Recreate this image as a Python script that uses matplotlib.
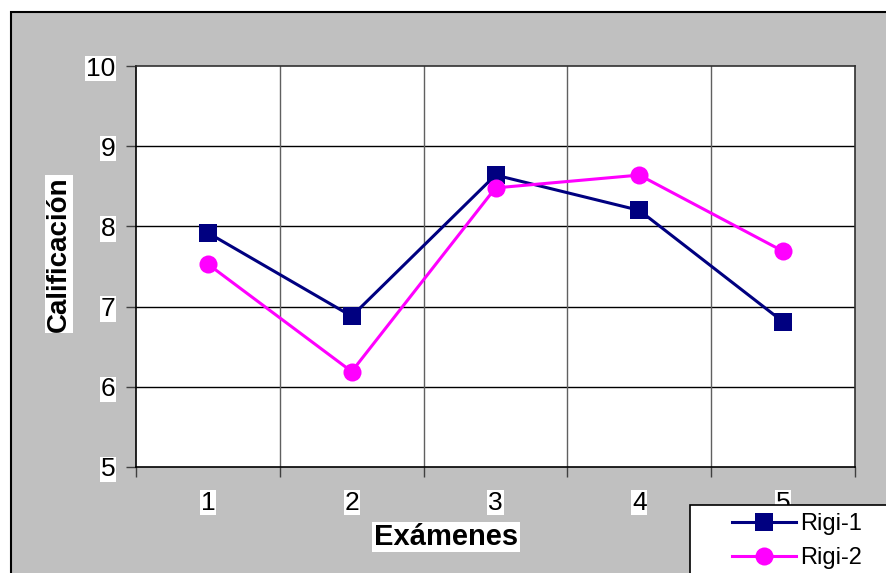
import matplotlib
matplotlib.use("Agg")
import matplotlib.pyplot as plt
from matplotlib.patches import Rectangle
from matplotlib.lines import Line2D
import numpy as np

plt.rcParams['font.family'] = ['Liberation Sans', 'DejaVu Sans']

examenes = ['1', '2', '3', '4', '5']
rigi_1 = [7.92, 6.88, 8.64, 8.20, 6.81]
rigi_2 = [7.53, 6.19, 8.48, 8.64, 7.69]
series_names = ['Rigi-1', 'Rigi-2']
y_ticks = [5, 6, 7, 8, 9, 10]

W, H = 886, 573
fig = plt.figure(figsize=(W / 100, H / 100), dpi=100)
fig.patch.set_facecolor('white')

def fx(px):
    return px / W

def fy(py):
    return 1 - py / H

# grey chart area with a dark frame
fig.patches.append(Rectangle((fx(11), fy(H + 20)), fx(W + 20), fy(12) - fy(H + 20),
                             transform=fig.transFigure, facecolor='#C0C0C0',
                             edgecolor='black', linewidth=1.5, zorder=-5))

ax = fig.add_axes([fx(136), fy(467), fx(855) - fx(136), fy(66) - fy(467)])
ax.set_zorder(1)
ax.set_facecolor('white')

x = np.arange(len(examenes))
ax.set_xlim(-0.5, len(examenes) - 0.5)
ax.set_ylim(5, 10)

# category boundaries carry the ticks and vertical grid, centres carry the labels
ax.set_xticks(np.arange(-0.5, len(examenes), 1.0))
ax.set_xticklabels([])
ax.set_xticks(x, minor=True)
ax.set_xticklabels(examenes, minor=True)
ax.tick_params(axis='x', which='minor', length=0, pad=17, labelsize=19)
ax.tick_params(axis='x', which='major', length=7, width=1, direction='out', color='#404040')
ax.set_yticks(y_ticks)
ax.tick_params(axis='y', length=7, width=1, direction='out', pad=8, labelsize=19, color='#404040')

for lab in ax.get_xticklabels(minor=True) + ax.get_yticklabels():
    lab.set_bbox(dict(facecolor='white', edgecolor='none', pad=0.5))

for v in y_ticks[1:-1]:
    ax.axhline(v, color='black', linewidth=1, zorder=1)
for b in np.arange(0.5, len(examenes) - 1, 1.0):
    ax.axvline(b, color='#606060', linewidth=1, zorder=1)

for s in ['top', 'right']:
    ax.spines[s].set_color('#303030')
    ax.spines[s].set_linewidth(1.2)
for s in ['left', 'bottom']:
    ax.spines[s].set_color('black')
    ax.spines[s].set_linewidth(1.2)

ax.plot(x, rigi_1, color='#000080', linewidth=2.2, marker='s', markersize=13,
        markeredgewidth=0, zorder=3, clip_on=False)
ax.plot(x, rigi_2, color='#FF00FF', linewidth=2.2, marker='o', markersize=13,
        markeredgewidth=0, zorder=3, clip_on=False)

fig.text(fx(446), fy(537), 'Exámenes', fontsize=21, fontweight='bold',
         ha='center', va='center', zorder=2,
         bbox=dict(facecolor='white', edgecolor='none', pad=1))
fig.text(fx(59), fy(254), 'Calificación', fontsize=20, fontweight='bold',
         ha='center', va='center', rotation=90, zorder=2,
         bbox=dict(facecolor='white', edgecolor='none', pad=1))

# legend box running off the bottom-right corner
fig.patches.append(Rectangle((fx(690), fy(H + 20)), fx(W + 20) - fx(690), fy(505) - fy(H + 20),
                             transform=fig.transFigure, facecolor='white',
                             edgecolor='black', linewidth=1.2, zorder=5))
handles = [Line2D([], [], color='#000080', linewidth=2.2, marker='s', markersize=13, markeredgewidth=0),
           Line2D([], [], color='#FF00FF', linewidth=2.2, marker='o', markersize=13, markeredgewidth=0)]
leg = fig.legend(handles, series_names, loc='upper left',
                 bbox_to_anchor=(fx(732), fy(513)), frameon=False, fontsize=17,
                 handlelength=2.7, handletextpad=0.2, labelspacing=0.5,
                 borderpad=0, borderaxespad=0)
leg.set_zorder(6)

fig.savefig('out.png', dpi=100)
